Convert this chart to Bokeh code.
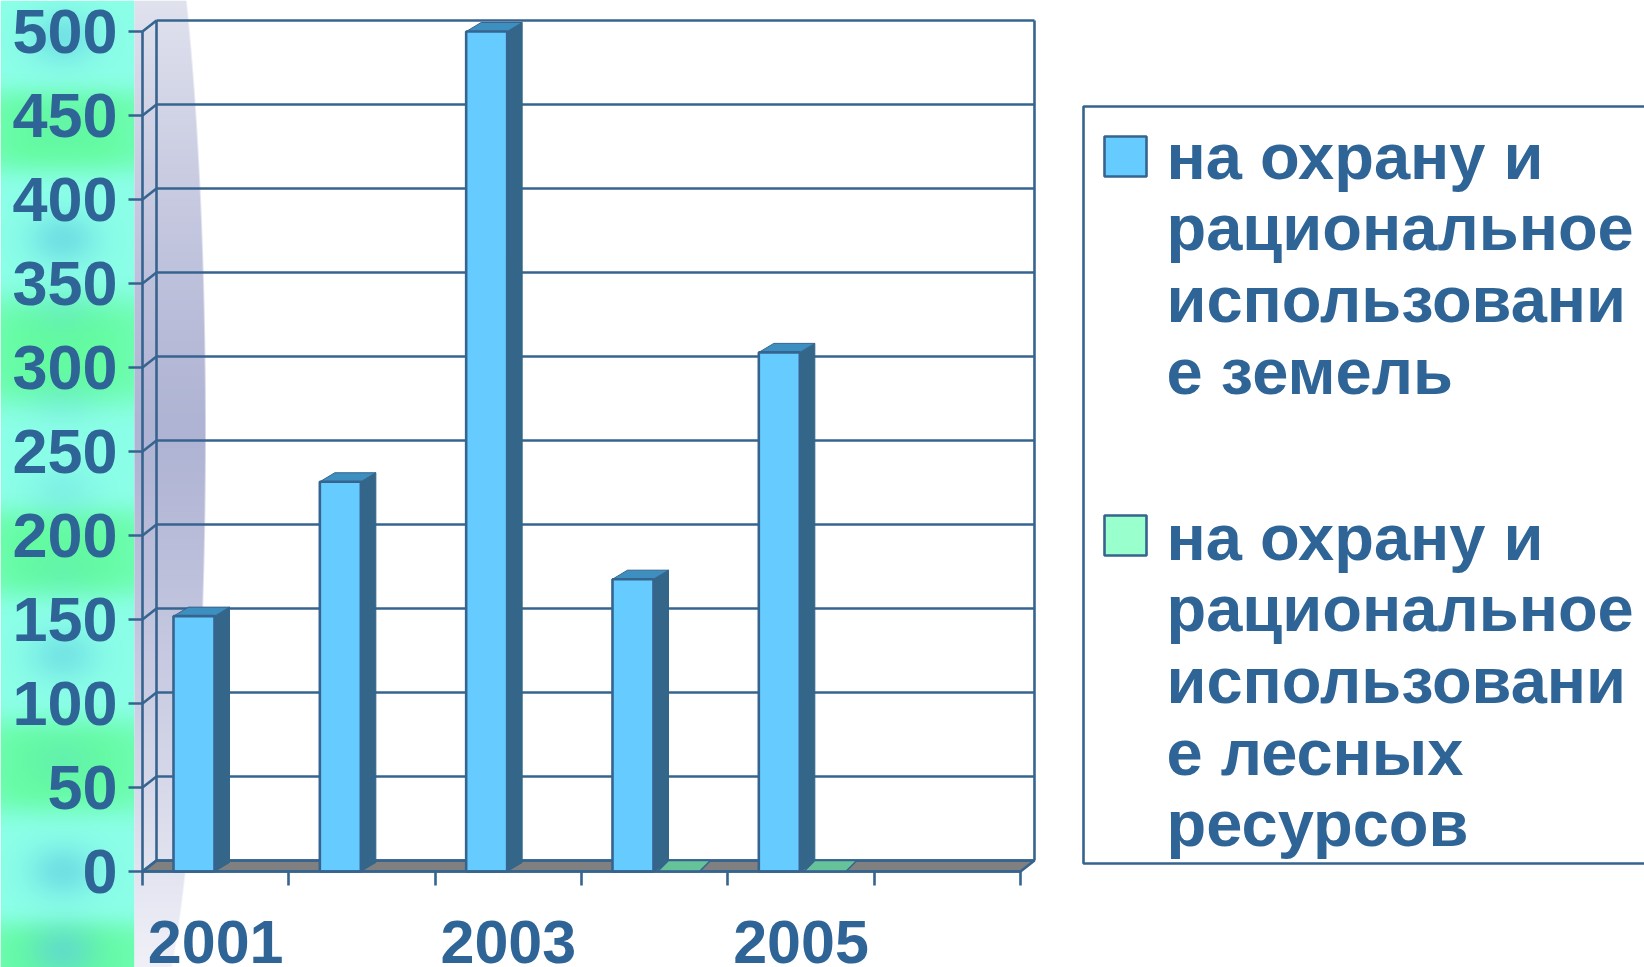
import numpy as np
from bokeh.plotting import figure
from bokeh.models import FixedTicker, Range1d
from bokeh.core.properties import value
from bokeh.embed import file_html
from bokeh.resources import INLINE

# ---- data ----
categories = ["2001", "2002", "2003", "2004", "2005", "2006"]
land_values = [152, 232, 500, 174, 309, None]
forest_values = [None, None, None, 0, 0, None]
y_ticks = [0, 50, 100, 150, 200, 250, 300, 350, 400, 450, 500]
x_labels = {0.5: "2001", 2.5: "2003", 4.5: "2005"}
legend_land = ["на охрану и", "рациональное", "использовани", "е земель"]
legend_forest = ["на охрану и", "рациональное", "использовани", "е лесных", "ресурсов"]

INK = "#36648F"
TEXT = "#2F6496"
FONT = value("Liberation Sans")

W, H = 1644, 967
X0, SX = 142.0, 146.33      # pixel of category edge 0, pixels per category
Y0, SY = 871.0, 1.68        # pixel of value 0, pixels per unit


def dx(px):
    return (px - X0) / SX


def dy(py):
    return (Y0 - py) / SY


p = figure(width=W, height=H, output_backend="svg", toolbar_location=None,
           x_range=Range1d(dx(0), dx(W)), y_range=Range1d(dy(H), dy(0)),
           min_border=0, outline_line_color=None, background_fill_color="white",
           border_fill_color="white", margin=(0, 0, 0, 0))
p.grid.visible = False

# ---- page decoration: blurred left strip and lavender wedge ----
yy, xx = np.mgrid[0:H, 0:134]
green_bands = [(130, 42), (350, 55), (552, 45), (765, 48), (960, 40)]
blue_blobs = [(62, 37, .55), (62, 238, .6), (62, 120, .12), (62, 400, .18), (62, 490, .25),
              (62, 654, .5), (62, 870, .6), (62, 950, .6), (62, 310, .2), (62, 570, .15), (62, 760, .2)]
g = np.zeros(yy.shape)
for c, s in green_bands:
    g += np.exp(-((yy - c) / s) ** 4)
g = np.clip(g, 0, 1)
edge = 0.75 + 0.25 * np.exp(-((xx - 62) / 60) ** 4)
g = g * edge
b = np.zeros(yy.shape)
for cx, cy, a in blue_blobs:
    b += a * np.exp(-((xx - cx) / 34) ** 2 - ((yy - cy) / 26) ** 2)
b = np.clip(b, 0, 1)
aqua, green, blue = np.array([140, 255, 232.]), np.array([100, 252, 160.]), np.array([95, 205, 225.])
rgb = aqua[None, None, :] * (1 - g[..., None]) + green[None, None, :] * g[..., None]
rgb = rgb * (1 - b[..., None]) + blue[None, None, :] * b[..., None]
strip = np.zeros((H, 134), dtype=np.uint32)
view = strip.view(dtype=np.uint8).reshape((H, 134, 4))
view[..., :3] = rgb.astype(np.uint8)
view[..., 3] = 255
p.image_rgba(image=[strip[::-1]], x=dx(0), y=dy(H), dw=134 / SX, dh=H / SY, level="underlay")

yy2, xx2 = np.mgrid[0:H, 0:72]
edge_x = 71 * np.sqrt(np.clip(1 - ((yy2 - 430) / 630.0) ** 2, 0, 1))
t_top = np.where(yy2 < 430, (430 - yy2) / 430.0, (yy2 - 430) / 537.0)
lo = np.array([176, 180, 212.])
hi = np.where(yy2[..., None] < 430, np.array([224, 226, 238.]), np.array([240, 241, 248.]))
col = lo[None, None, :] + (hi - lo[None, None, :]) * (t_top[..., None] ** 1.2)
wedge = np.zeros((H, 72), dtype=np.uint32)
wv = wedge.view(dtype=np.uint8).reshape((H, 72, 4))
wv[..., :3] = col.astype(np.uint8)
wv[..., 3] = (np.clip(edge_x - xx2, 0, 1) * 255).astype(np.uint8)
p.image_rgba(image=[wedge[::-1]], x=dx(134), y=dy(H), dw=72 / SX, dh=H / SY, level="underlay")

# ---- 3D frame ----
WALL_DX = 14 / SX
WALL_DY = 11 / SY
LW = 2.6
n = len(categories)
p.patch([0, n, n + WALL_DX, WALL_DX], [0, 0, WALL_DY, WALL_DY], fill_color="#808080",
        line_color=INK, line_width=LW)
ticks = np.array(y_ticks, dtype=float)
p.segment(x0=[WALL_DX] * len(ticks), y0=ticks + WALL_DY, x1=[n + WALL_DX] * len(ticks), y1=ticks + WALL_DY,
          line_color=INK, line_width=LW)
p.segment(x0=[0] * len(ticks), y0=ticks, x1=[WALL_DX] * len(ticks), y1=ticks + WALL_DY,
          line_color=INK, line_width=LW)
top = max(y_ticks) + WALL_DY
p.segment(x0=[WALL_DX, n + WALL_DX], y0=[WALL_DY, WALL_DY], x1=[WALL_DX, n + WALL_DX], y1=[top, top],
          line_color=INK, line_width=LW)

# ---- bars ----
BAR_OFF, BAR_W = 31 / SX, 41 / SX
BAR_DX, BAR_DY = 15 / SX, 9 / SY
for i, v in enumerate(land_values):
    if v is None:
        continue
    l, r = i + BAR_OFF, i + BAR_OFF + BAR_W
    p.patch([r, r + BAR_DX, r + BAR_DX, r], [0, BAR_DY, v + BAR_DY, v], fill_color="#336688",
            line_color="#336688", line_width=1)
    p.patch([l, r, r + BAR_DX, l + BAR_DX], [v, v, v + BAR_DY, v + BAR_DY], fill_color="#3D8FC0",
            line_color=INK, line_width=1)
    p.quad(left=l, right=r, bottom=0, top=v, fill_color="#66CCFF", line_color=INK, line_width=LW)

F_OFF, F_W, F_DX, F_DY = 76 / SX, 42 / SX, 11 / SX, 11 / SY
for i, v in enumerate(forest_values):
    if v is None:
        continue
    l, r = i + F_OFF, i + F_OFF + F_W
    p.patch([l, r, r + F_DX, l + F_DX], [v, v, v + F_DY, v + F_DY], fill_color="#66C298",
            line_color=INK, line_width=1.5)

# ---- axes ----
ya = p.yaxis[0]
ya.fixed_location = 0
ya.bounds = (0, max(y_ticks))
ya.ticker = FixedTicker(ticks=y_ticks)
ya.major_tick_in, ya.major_tick_out = 0, 14
ya.minor_tick_in = ya.minor_tick_out = 0
ya.axis_line_color = ya.major_tick_line_color = INK
ya.axis_line_width = ya.major_tick_line_width = LW
ya.major_label_standoff = 11
ya.major_label_text_font = "Liberation Sans"
ya.major_label_text_font_style = "bold"
ya.major_label_text_font_size = "63px"
ya.major_label_text_color = TEXT

xa = p.xaxis[0]
xa.fixed_location = 0
xa.bounds = (0, n)
xa.ticker = FixedTicker(ticks=list(x_labels), minor_ticks=list(range(n + 1)))
xa.major_label_overrides = x_labels
xa.major_tick_in = xa.major_tick_out = 0
xa.minor_tick_in, xa.minor_tick_out = 0, 14
xa.axis_line_color = xa.minor_tick_line_color = INK
xa.axis_line_width = xa.minor_tick_line_width = LW
xa.major_label_standoff = 35
xa.major_label_text_font = "Liberation Sans"
xa.major_label_text_font_style = "bold"
xa.major_label_text_font_size = "61px"
xa.major_label_text_color = TEXT

# ---- legend ----
p.quad(left=dx(1083), right=dx(1660), top=dy(106), bottom=dy(863), fill_color=None,
       line_color=INK, line_width=LW)
p.quad(left=dx(1104), right=dx(1146), top=dy(136), bottom=dy(176), fill_color="#66CCFF",
       line_color=INK, line_width=LW)
p.quad(left=dx(1104), right=dx(1146), top=dy(515), bottom=dy(555), fill_color="#99FFCC",
       line_color=INK, line_width=LW)
for lines, base in ((legend_land, 155.5), (legend_forest, 536.5)):
    p.text(x=[dx(1166)] * len(lines), y=[dy(base + 71.7 * k) for k in range(len(lines))], text=lines,
           text_font=FONT, text_font_style="bold", text_font_size="65px", text_color=TEXT,
           text_align="left", text_baseline="alphabetic")

open("out.html", "w").write(file_html(p, INLINE))
